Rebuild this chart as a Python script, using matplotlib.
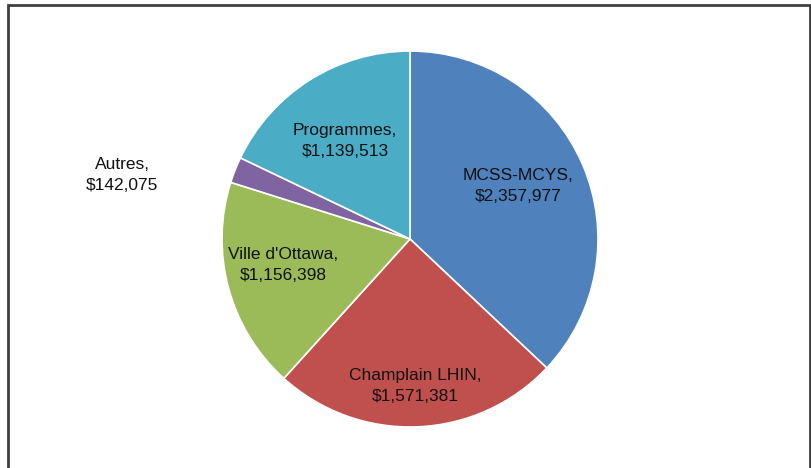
import matplotlib
matplotlib.use("Agg")
import matplotlib.pyplot as plt
from matplotlib.patches import Rectangle

categories = ["MCSS-MCYS", "Champlain LHIN", "Ville d'Ottawa", "Autres", "Programmes"]
values = [2357977, 1571381, 1156398, 142075, 1139513]
colors = ["#4F81BD", "#C0504D", "#9BBB59", "#8064A2", "#4BACC6"]
label_pos = [(0.574, 0.282), (0.027, -0.782), (-0.676, -0.138), (-1.53, 0.34), (-0.346, 0.521)]

plt.rcParams['font.family'] = ['Liberation Sans', 'DejaVu Sans']

W, H = 812, 468
fig = plt.figure(figsize=(W / 100, H / 100), dpi=100)
fig.patches.append(Rectangle((8 / W, -0.05), (810 - 8) / W, (468 - 5) / H + 0.05,
                             transform=fig.transFigure, fill=False,
                             edgecolor="#404040", linewidth=2))

cx, cy, r = 410, 239, 188
ax = fig.add_axes([(cx - r) / W, (H - cy - r) / H, 2 * r / W, 2 * r / H])
wedges, texts = ax.pie(values, colors=colors, startangle=90, counterclock=False,
                       wedgeprops=dict(edgecolor="white", linewidth=1.2),
                       labels=[f"{c},\n${v:,}" for c, v in zip(categories, values)],
                       textprops=dict(fontsize=12.5, color="#111111", ha="center", va="center",
                                      linespacing=1.45))
for t, p in zip(texts, label_pos):
    t.set_position(p)
    t.set_ha("center")
    t.set_va("center")
ax.set_xlim(-1, 1)
ax.set_ylim(-1, 1)
ax.set_aspect("equal")
ax.axis("off")

fig.savefig("out.png", dpi=100)
